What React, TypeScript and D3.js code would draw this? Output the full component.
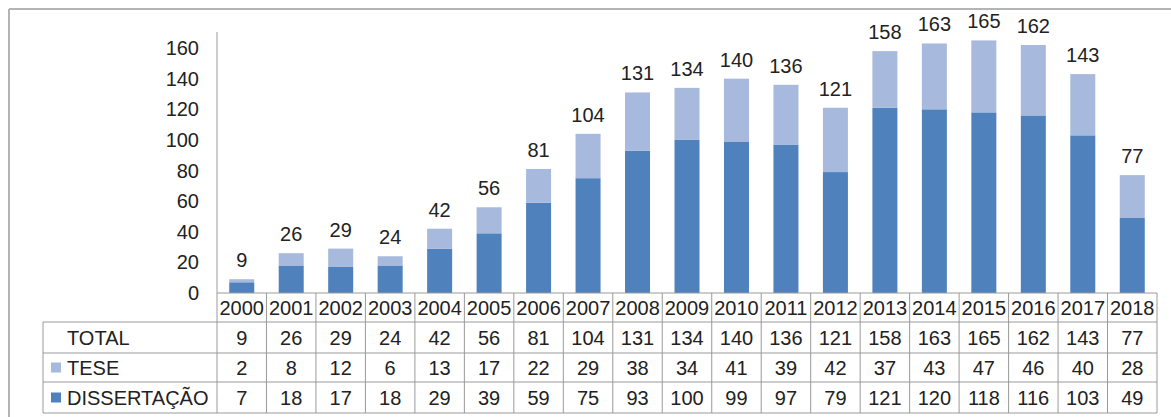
import React from "react";
import * as d3 from "d3";

const years = ["2000","2001","2002","2003","2004","2005","2006","2007","2008","2009","2010","2011","2012","2013","2014","2015","2016","2017","2018"];
const tese = [2,8,12,6,13,17,22,29,38,34,41,39,42,37,43,47,46,40,28];
const dissertacao = [7,18,17,18,29,39,59,75,93,100,99,97,79,121,120,118,116,103,49];
const total = [9,26,29,24,42,56,81,104,131,134,140,136,121,158,163,165,162,143,77];
const yTicks = [0,20,40,60,80,100,120,140,160];

const W = 1171;
const H = 417;
const plotLeft = 217;
const plotRight = 1157;
const plotTop = 32;
const baseY = 293;
const rowH = [29, 31, 29, 31];
const tableLeft = 43;
const font = "'Liberation Sans', Arial, sans-serif";
const fs = 20;
const dark = "#4f81bd";
const light = "#a7b9dc";
const gridCol = "#9a9a9a";
const textCol = "#222";

export default function App() {
  const x = d3.scaleBand<string>().domain(years).range([plotLeft, plotRight]).paddingInner(0).paddingOuter(0);
  const y = d3.scaleLinear().domain([0, 170.5]).range([baseY, plotTop]);
  const bw = 25;
  const cw = x.bandwidth();

  const rowTops: number[] = [];
  let acc = baseY;
  for (const h of rowH) { rowTops.push(acc); acc += h; }
  const tableBottom = acc;

  const rows = [
    { label: "TOTAL", vals: total, swatch: null as string | null },
    { label: "TESE", vals: tese, swatch: light },
    { label: "DISSERTAÇÃO", vals: dissertacao, swatch: dark },
  ];

  return (
    <svg width={W} height={H} style={{ position: "absolute", left: 0, top: 0, background: "#fff" }} fontFamily={font}>
      <rect x={0} y={0} width={W} height={H} fill="#fff" />
      {/* frame */}
      <line x1={9} y1={9} x2={W} y2={9} stroke="#b4b4b4" strokeWidth={2} />
      <line x1={9} y1={9} x2={9} y2={H} stroke="#b4b4b4" strokeWidth={2} />

      {/* y axis */}
      <line x1={plotLeft} y1={plotTop} x2={plotLeft} y2={baseY} stroke={gridCol} strokeWidth={1} />
      {yTicks.map((t) => (
        <text key={t} x={199} y={y(t)} dy="0.35em" textAnchor="end" fontSize={fs} fill={textCol}>{t}</text>
      ))}

      {/* stacked bars */}
      {years.map((yr, i) => {
        const cx = (x(yr) as number) + cw / 2;
        return (
          <g key={yr}>
            <rect x={cx - bw / 2} y={y(dissertacao[i])} width={bw} height={baseY - y(dissertacao[i])} fill={dark} />
            <rect x={cx - bw / 2} y={y(dissertacao[i] + tese[i])} width={bw} height={y(dissertacao[i]) - y(dissertacao[i] + tese[i])} fill={light} />
            <text x={cx} y={y(total[i]) - 12} textAnchor="middle" fontSize={fs} fill={textCol}>{total[i]}</text>
          </g>
        );
      })}

      {/* data table */}
      <g stroke={gridCol} strokeWidth={1}>
        <line x1={plotLeft} y1={baseY} x2={plotRight} y2={baseY} />
        <line x1={tableLeft} y1={rowTops[1]} x2={plotRight} y2={rowTops[1]} />
        <line x1={tableLeft} y1={rowTops[2]} x2={plotRight} y2={rowTops[2]} />
        <line x1={tableLeft} y1={rowTops[3]} x2={plotRight} y2={rowTops[3]} />
        <line x1={tableLeft} y1={tableBottom} x2={plotRight} y2={tableBottom} />
        <line x1={tableLeft} y1={rowTops[1]} x2={tableLeft} y2={tableBottom} />
        {years.map((yr) => (
          <line key={yr} x1={x(yr) as number} y1={baseY} x2={x(yr) as number} y2={tableBottom} />
        ))}
        <line x1={plotRight} y1={baseY} x2={plotRight} y2={tableBottom} />
      </g>
      {years.map((yr) => (
        <text key={yr} x={(x(yr) as number) + cw / 2} y={rowTops[0] + rowH[0] / 2} dy="0.35em" textAnchor="middle" fontSize={fs} fill={textCol}>{yr}</text>
      ))}
      {rows.map((r, ri) => {
        const top = rowTops[ri + 1];
        const cy = top + rowH[ri + 1] / 2;
        return (
          <g key={r.label}>
            {r.swatch && <rect x={51} y={cy - 5} width={10} height={10} fill={r.swatch} />}
            <text x={67} y={cy} dy="0.35em" fontSize={fs} fill={textCol}>{r.label}</text>
            {years.map((yr, i) => (
              <text key={yr} x={(x(yr) as number) + cw / 2} y={cy} dy="0.35em" textAnchor="middle" fontSize={fs} fill={textCol}>{r.vals[i]}</text>
            ))}
          </g>
        );
      })}
    </svg>
  );
}
